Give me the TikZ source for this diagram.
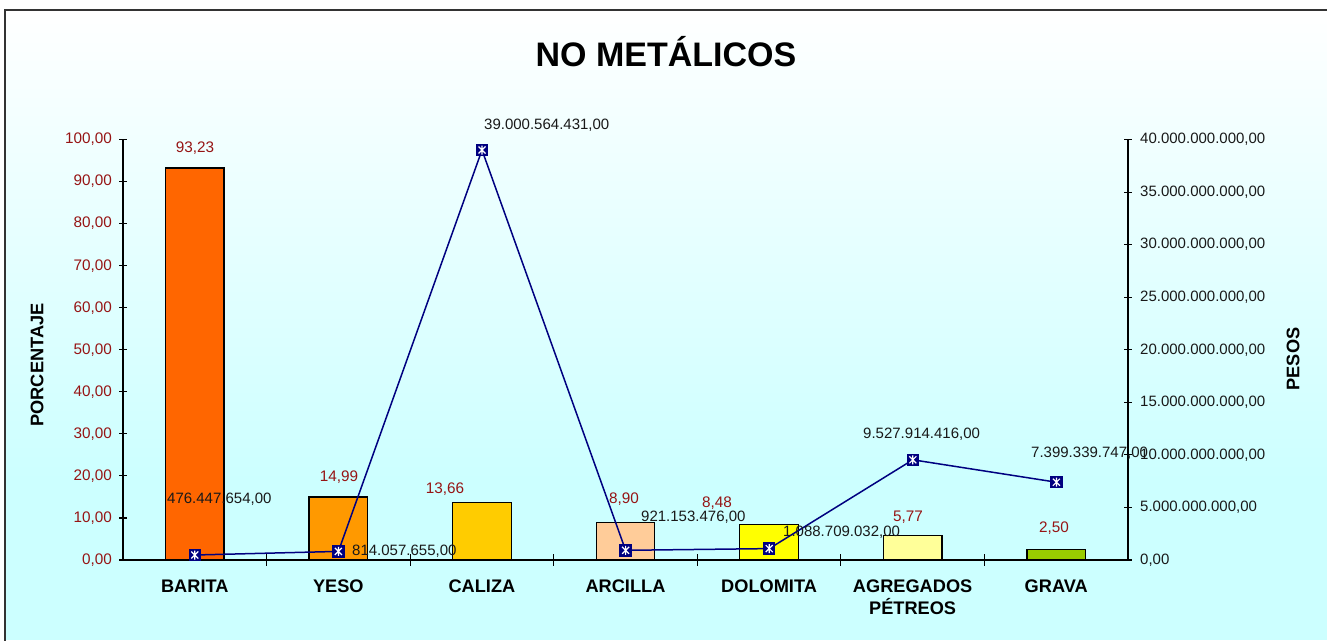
\documentclass[tikz,border=0pt]{standalone}
\usepackage{fontspec}
\setmainfont{Liberation Sans}
\definecolor{fondo}{RGB}{204,255,255}
\definecolor{rojoetq}{RGB}{150,20,20}
\definecolor{azul}{RGB}{0,0,128}
\definecolor{barita}{RGB}{255,102,0}
\definecolor{yeso}{RGB}{255,153,0}
\definecolor{caliza}{RGB}{255,204,0}
\definecolor{arcilla}{RGB}{255,204,153}
\definecolor{dolomita}{RGB}{255,255,0}
\definecolor{agregados}{RGB}{255,255,153}
\definecolor{grava}{RGB}{153,204,0}
\begin{document}
\begin{tikzpicture}[x=1pt,y=-1pt,
    eje/.style={line width=1.1pt,black},
    barra/.style={draw=black,line width=1.3pt},
    rojo/.style={text=rojoetq,font=\fontsize{15.3}{15}\selectfont,inner sep=0pt},
    etq/.style={text=black!90,font=\fontsize{15}{15}\selectfont,inner sep=0pt},
    cat/.style={font=\bfseries\fontsize{18.2}{22}\selectfont,align=center,inner sep=0pt},
    linea/.style={draw=azul,line width=1.5pt},
    marca/.style={rectangle,fill=azul,minimum size=12.5pt,inner sep=0pt,
        path picture={
            \draw[white,line width=1.2pt]
                ([shift={(-3.5pt,-3.5pt)}]path picture bounding box.center) -- ([shift={(3.5pt,3.5pt)}]path picture bounding box.center)
                ([shift={(-3.5pt,3.5pt)}]path picture bounding box.center) -- ([shift={(3.5pt,-3.5pt)}]path picture bounding box.center)
                ([shift={(0pt,-4.5pt)}]path picture bounding box.center) -- ([shift={(0pt,4.5pt)}]path picture bounding box.center);}}]
\useasboundingbox (0,0) rectangle (1327,640);
\shade[top color=white,bottom color=fondo] (5,10) rectangle (1327,480);
\fill[fondo] (5,479) rectangle (1327,640);
\draw[line width=2pt,black!80] (5,660) -- (5,10) -- (1340,10);

\node[font=\bfseries\fontsize{34}{34}\selectfont] (titulo) at (666,52) {NO METÁLICOS};
\node[cat,rotate=90] (porcentaje) at (37,365) {PORCENTAJE};
\node[cat,rotate=90] (pesos) at (1293,359) {PESOS};

\foreach \k/\v/\c/\n in {1/93.23/barita/BARITA,2/14.99/yeso/YESO,3/13.66/caliza/CALIZA,4/8.90/arcilla/ARCILLA,
    5/8.48/dolomita/DOLOMITA,6/5.77/agregados/{AGREGADOS\\PÉTREOS},7/2.50/grava/GRAVA}{
  \draw[barra,fill=\c] ({123+(\k-0.5)*143.57-29.3},560) rectangle +(58.6,{-\v*4.205});
  \node[cat,anchor=north] (cat\k) at ({123+(\k-0.5)*143.57},580) {\n};
}

\draw[eje] (123,139.5) -- (123,560) -- (1128,560) -- (1128,139.5);
\foreach \k in {0,...,10}{
  \pgfmathtruncatemacro\n{\k*10}
  \draw[eje] (119,{560-\k*42.05}) -- (127,{560-\k*42.05});
  \node[rojo,anchor=east] (izq\k) at (112,{560-\k*42.05}) {\n,00};
}
\foreach \k/\t in {0/{0,00},1/{5.000.000.000,00},2/{10.000.000.000,00},3/{15.000.000.000,00},4/{20.000.000.000,00},
    5/{25.000.000.000,00},6/{30.000.000.000,00},7/{35.000.000.000,00},8/{40.000.000.000,00}}{
  \draw[eje] (1124,{560-\k*52.56}) -- (1132,{560-\k*52.56});
  \node[etq,anchor=west] (der\k) at (1140,{560-\k*52.56}) {\t};
}
\foreach \k in {1,...,6}
  \draw[eje] ({123+\k*143.57},554) -- ({123+\k*143.57},566);

\node[rojo] (v1) at (195,148) {93,23};
\node[rojo] (v2) at (339,477) {14,99};
\node[rojo] (v3) at (445,489) {13,66};
\node[rojo] (v4) at (624,499) {8,90};
\node[rojo] (v5) at (717,503) {8,48};
\node[rojo] (v6) at (908,517) {5,77};
\node[rojo] (v7) at (1054,528) {2,50};

\coordinate (p1) at (194.8,555.0);
\coordinate (p2) at (338.4,551.4);
\coordinate (p3) at (482.0,150.0);
\coordinate (p4) at (625.6,550.3);
\coordinate (p5) at (769.2,548.6);
\coordinate (p6) at (912.8,459.8);
\coordinate (p7) at (1056.4,482.2);
\draw[linea] (p1) -- (p2) -- (p3) -- (p4) -- (p5) -- (p6) -- (p7);
\foreach \k in {1,...,7}
  \node[marca] (m\k) at (p\k) {};

\node[etq,anchor=west] (e1) at (167,499) {476.447.654,00};
\node[etq,anchor=west] (e2) at (352,551) {814.057.655,00};
\node[etq,anchor=west] (e3) at (484,125) {39.000.564.431,00};
\node[etq,anchor=west] (e4) at (641,517) {921.153.476,00};
\node[etq,anchor=west] (e5) at (783,532) {1.088.709.032,00};
\node[etq,anchor=west] (e6) at (863,434) {9.527.914.416,00};
\node[etq,anchor=west] (e7) at (1031,453) {7.399.339.747,00};
\end{tikzpicture}
\end{document}
